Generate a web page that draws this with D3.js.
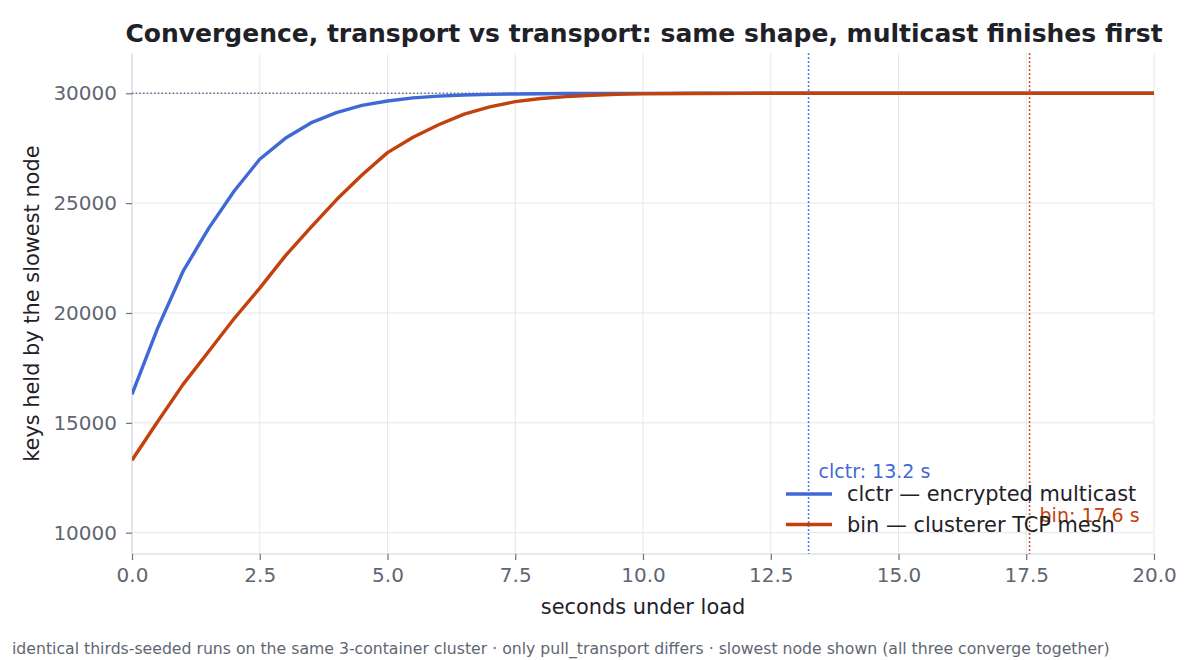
<!DOCTYPE html>
<html><head><meta charset="utf-8">
<script src="https://cdn.jsdelivr.net/npm/d3@7"></script>
<style>
html,body{margin:0;padding:0;background:#fff;}
svg{display:block;font-family:"DejaVu Sans",sans-serif;}
</style></head>
<body>
<svg id="c" width="1200" height="660"></svg>
<script>
const times = [0,0.5,1,1.5,2,2.5,3,3.5,4,4.5,5,5.5,6,6.5,7,7.5,8,8.5,9,9.5,10,11,12,13,14,15,16,17,18,19,20];
const clctrKeys = [16300,19300,21900,23850,25550,27000,27950,28650,29120,29450,29650,29790,29870,29920,29950,29970,29982,29989,29993,29996,29998,29999,30000,30000,30000,30000,30000,30000,30000,30000,30000];
const binKeys = [13300,15050,16750,18250,19750,21130,22600,23900,25150,26280,27300,28000,28570,29050,29380,29620,29760,29850,29910,29950,29975,29993,29998,30000,30000,30000,30000,30000,30000,30000,30000];
const seriesNames = ["clctr — encrypted multicast","bin — clusterer TCP mesh"];
const seriesShort = ["clctr","bin"];
const convergeTimes = [13.24,17.565];
const targetKeys = 30000;
const xTicks = [0,2.5,5,7.5,10,12.5,15,17.5,20];
const yTicks = [10000,15000,20000,25000,30000];
const colors = ["#4169d6","#c2410c"];

const svg = d3.select("#c");
const m = {l:132, r:1154, t:53.3, b:554};
const x = d3.scaleLinear().domain([0,20]).range([m.l,m.r]);
const y = d3.scaleLinear().domain([9030,31820]).range([m.b,m.t]);

svg.append("defs").append("clipPath").attr("id","clip")
  .append("rect").attr("x",m.l).attr("y",m.t).attr("width",m.r-m.l).attr("height",m.b-m.t);

// grid
const g = svg.append("g");
g.selectAll(".vg").data(xTicks).join("line")
  .attr("x1",d=>x(d)).attr("x2",d=>x(d)).attr("y1",m.t).attr("y2",m.b)
  .attr("stroke","#e4e7eb").attr("stroke-width",1);
g.selectAll(".hg").data(yTicks).join("line")
  .attr("y1",d=>y(d)).attr("y2",d=>y(d)).attr("x1",m.l).attr("x2",m.r)
  .attr("stroke","#e4e7eb").attr("stroke-width",1);

// axes
const xAxis = svg.append("g").attr("transform",`translate(0,${m.b})`)
  .call(d3.axisBottom(x).tickValues(xTicks).tickFormat(d3.format(".1f")).tickSize(6).tickPadding(8));
const yAxis = svg.append("g").attr("transform",`translate(${m.l},0)`)
  .call(d3.axisLeft(y).tickValues(yTicks).tickFormat(d3.format("d")).tickSize(6).tickPadding(9));
[xAxis,yAxis].forEach(a=>{
  a.select(".domain").attr("stroke","#dde1e7").attr("stroke-width",1.5);
  a.selectAll(".tick line").attr("stroke","#6b7280").attr("stroke-width",1.2);
  a.selectAll(".tick text").attr("fill","#5f6673").attr("font-size","20px").attr("font-family","DejaVu Sans");
});
yAxis.select(".domain").attr("d",`M0,${m.b}V${m.t}`);
xAxis.select(".domain").attr("d",`M${m.l},0H${m.r}`);

// target line
svg.append("line").attr("x1",m.l).attr("x2",m.r).attr("y1",y(targetKeys)).attr("y2",y(targetKeys))
  .attr("stroke","#5b6585").attr("stroke-width",1.4).attr("stroke-dasharray","1.4,2.3");

// convergence lines
convergeTimes.forEach((t,i)=>{
  svg.append("line").attr("x1",x(t)).attr("x2",x(t)).attr("y1",m.t).attr("y2",m.b)
    .attr("stroke",colors[i]).attr("stroke-width",1.6).attr("stroke-dasharray","1.6,2.4");
});

// series
const line = d3.line().x((d,i)=>x(times[i])).y(d=>y(d));
[clctrKeys,binKeys].forEach((s,i)=>{
  svg.append("path").datum(s).attr("d",line).attr("fill","none")
    .attr("stroke",colors[i]).attr("stroke-width",3.4).attr("stroke-linejoin","round")
    .attr("clip-path","url(#clip)");
});

// convergence labels
const labelY = [471.5, 515];
convergeTimes.forEach((t,i)=>{
  svg.append("text").attr("x",x(t)+10).attr("y",labelY[i]).attr("dy","0.35em")
    .attr("fill",colors[i]).attr("font-size","19px")
    .text(`${seriesShort[i]}: ${d3.format(".1f")(t)} s`);
});

// legend
const legY = [494, 524.5];
seriesNames.forEach((n,i)=>{
  svg.append("line").attr("x1",786).attr("x2",832).attr("y1",legY[i]).attr("y2",legY[i])
    .attr("stroke",colors[i]).attr("stroke-width",3.6);
  svg.append("text").attr("x",847).attr("y",legY[i]).attr("dy","0.35em")
    .attr("fill","#1f2128").attr("font-size","20.9px").text(n);
});

// title
svg.append("text").attr("x",(m.l+m.r)/2+1).attr("y",33).attr("dy","0.35em").attr("text-anchor","middle")
  .attr("font-weight","bold").attr("font-size","25px").attr("fill","#1f2128")
  .text("Convergence, transport vs transport: same shape, multicast finishes first");

// axis labels
svg.append("text").attr("x",(m.l+m.r)/2).attr("y",607).attr("dy","0.35em").attr("text-anchor","middle")
  .attr("font-size","20.9px").attr("fill","#1f2128").text("seconds under load");
svg.append("text").attr("transform",`translate(32,${(m.t+m.b)/2}) rotate(-90)`).attr("dy","0.35em")
  .attr("text-anchor","middle").attr("font-size","20.9px").attr("fill","#1f2128").text("keys held by the slowest node");

// footer
svg.append("text").attr("x",12).attr("y",648.5).attr("dy","0.35em")
  .attr("font-size","15.7px").attr("fill","#5f6673")
  .text("identical thirds-seeded runs on the same 3-container cluster · only pull_transport differs · slowest node shown (all three converge together)");
</script>
</body></html>
